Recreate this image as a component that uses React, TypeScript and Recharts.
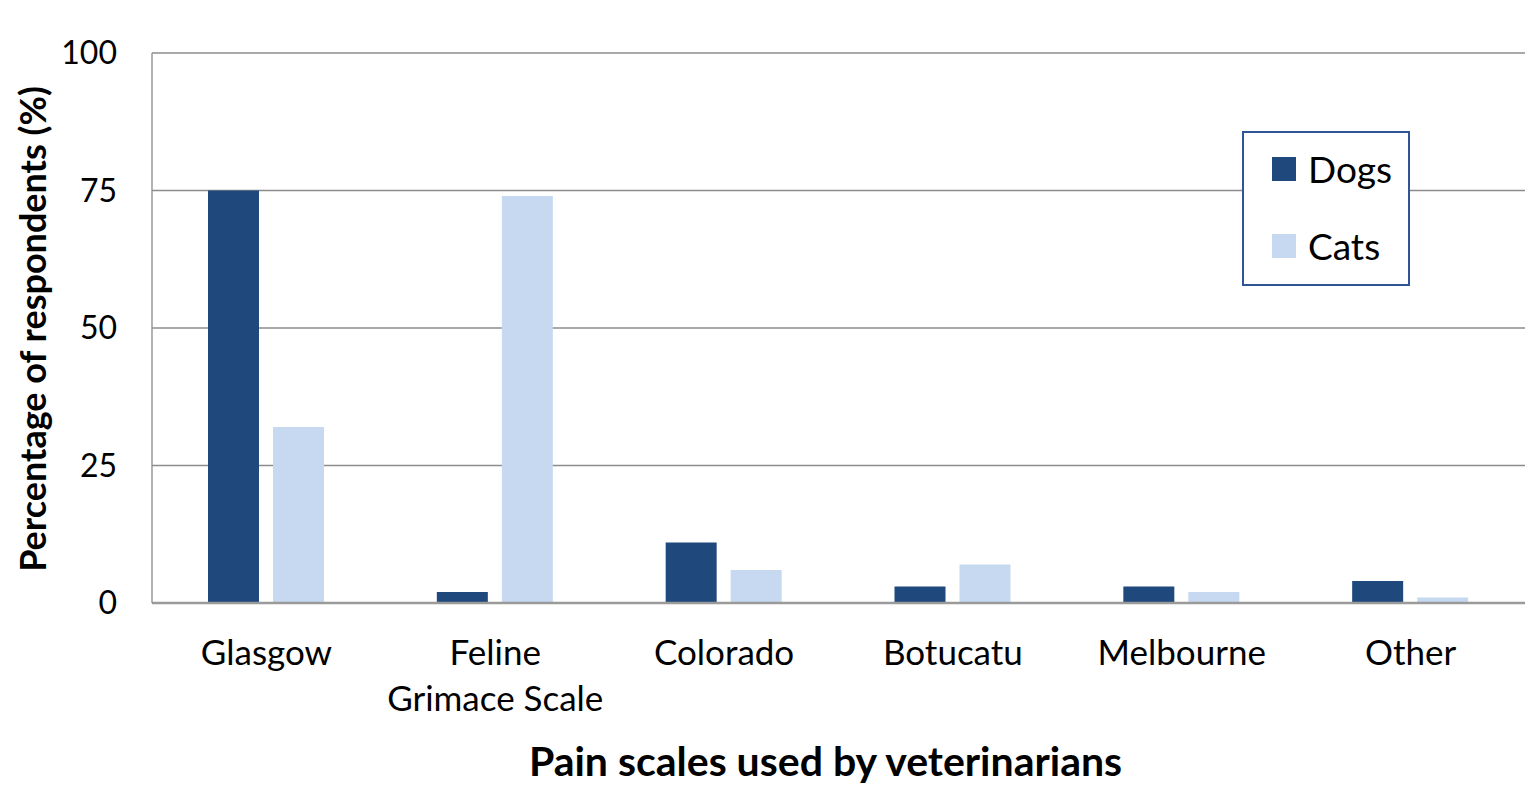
import React from 'react';
import { BarChart, Bar, XAxis, YAxis, CartesianGrid, Legend, Label } from 'recharts';

const categories = ['Glasgow', 'Feline Grimace Scale', 'Colorado', 'Botucatu', 'Melbourne', 'Other'];
const tickLines: string[][] = [['Glasgow'], ['Feline', 'Grimace Scale'], ['Colorado'], ['Botucatu'], ['Melbourne'], ['Other']];
const dogs = [75, 2, 11, 3, 3, 4];
const cats = [32, 74, 6, 7, 2, 1];
const yTicks = [0, 25, 50, 75, 100];

const DARK = '#1F497D';
const LIGHT = '#C6D9F0';
const FONT = 'Lato, "Open Sans", sans-serif';

const data = categories.map((c, i) => ({ name: c, Dogs: dogs[i], Cats: cats[i] }));

const XTick = (props: any) => {
  const { x, y, index } = props;
  const lines = tickLines[index] || [props.payload.value];
  return (
    <g>
      {lines.map((l, i) => (
        <text key={i} x={x} y={y + 62 + i * 46} textAnchor="middle" fontSize={35} fill="#000" fontFamily={FONT}>
          {l}
        </text>
      ))}
    </g>
  );
};

const LegendBox = () => (
  <div
    style={{
      width: 168,
      height: 155,
      boxSizing: 'border-box',
      border: '2px solid #2F5597',
      background: '#fff',
      position: 'relative',
      fontFamily: FONT,
    }}
  >
    {[
      { label: 'Dogs', color: DARK, top: 26 },
      { label: 'Cats', color: LIGHT, top: 103 },
    ].map((it) => (
      <div key={it.label}>
        <div style={{ position: 'absolute', left: 28, top: it.top - 2, width: 24, height: 24, background: it.color }} />
        <div style={{ position: 'absolute', left: 64, top: it.top - 18, fontSize: 37, lineHeight: '56px', color: '#000' }}>
          {it.label}
        </div>
      </div>
    ))}
  </div>
);

export default function App() {
  return (
    <div style={{ width: 1519, height: 795, background: '#fff' }}>
      <BarChart
        width={1519}
        height={795}
        data={data}
        margin={{ top: 45, right: 2, left: 0, bottom: 0 }}
        barSize={51}
        barGap={14}
      >
        <CartesianGrid vertical={false} stroke="#8C8C8C" strokeWidth={1.3} />
        <XAxis
          dataKey="name"
          height={200}
          axisLine={{ stroke: '#9A9A9A', strokeWidth: 2.5 }}
          tickLine={false}
          tickSize={0}
          tickMargin={0}
          interval={0}
          tick={<XTick />}
        >
          <Label
            value="Pain scales used by veterinarians"
            position="insideBottom"
            offset={27}
            dx={-13}
            style={{ fontSize: 41, fontWeight: 700, fill: '#000', fontFamily: FONT }}
          />
        </XAxis>
        <YAxis
          width={144}
          domain={[0, 100]}
          ticks={yTicks}
          axisLine={{ stroke: '#8C8C8C', strokeWidth: 1.3 }}
          tickLine={false}
          tickSize={0}
          tickMargin={35}
          tick={{ fontSize: 32, fill: '#000', fontFamily: FONT }}
        >
          <Label
            content={(p: any) => {
              const vb = p.viewBox;
              const cx = vb.x + 24;
              const cy = vb.y + vb.height / 2 + 1;
              return (
                <text
                  x={cx}
                  y={cy}
                  transform={`rotate(-90 ${cx} ${cy})`}
                  textAnchor="middle"
                  dominantBaseline="central"
                  fontSize={36}
                  fontWeight={700}
                  fill="#000"
                  fontFamily={FONT}
                >
                  Percentage of respondents (%)
                </text>
              );
            }}
          />
        </YAxis>
        <Legend
          layout="horizontal"
          verticalAlign="middle"
          align="center"
          content={<LegendBox />}
          wrapperStyle={{ position: 'absolute', left: 1234, top: 123, width: 168, height: 155 }}
        />
        <Bar dataKey="Dogs" fill={DARK} isAnimationActive={false} />
        <Bar dataKey="Cats" fill={LIGHT} isAnimationActive={false} />
      </BarChart>
    </div>
  );
}
